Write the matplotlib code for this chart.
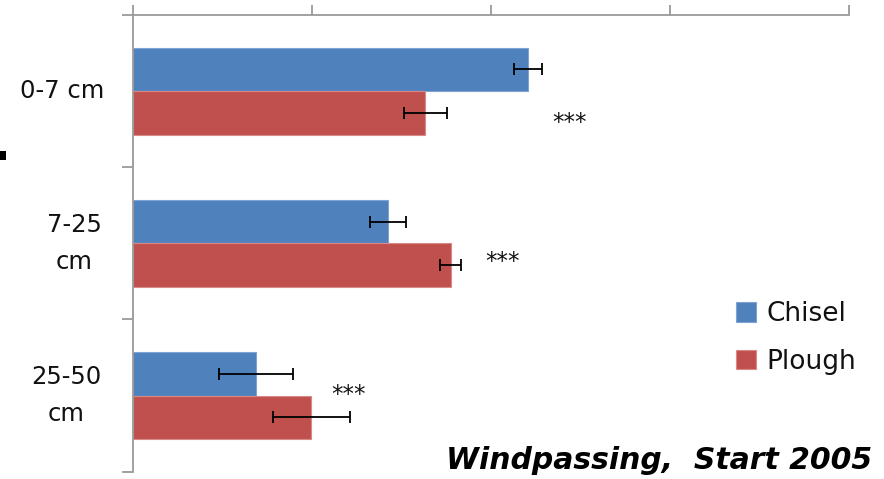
import matplotlib
matplotlib.use("Agg")
import matplotlib.pyplot as plt
import numpy as np
from matplotlib.patches import Rectangle

# Soil depth layers and treatment means with standard errors
depths = ["0-7 cm", "7-25\ncm", "25-50\ncm"]
series_names = ["Chisel", "Plough"]
chisel = [2.208, 1.425, 0.688]
plough = [1.634, 1.776, 0.997]
chisel_err = [0.079, 0.099, 0.207]
plough_err = [0.118, 0.059, 0.214]
signif = ["***", "***", "***"]
title = "Windpassing,  Start 2005"

blue = "#4F81BD"
red = "#C0504D"
axis_grey = "#9a9a9a"
font = ["DejaVu Sans"]

fig = plt.figure(figsize=(8.84, 4.79), dpi=100)
ax = fig.add_axes([133 / 884, 1 - 471.7 / 479, (849 - 133) / 884, (471.7 - 15) / 479])

y = np.arange(len(depths))
h = 0.286
err_kw = dict(ecolor="black", elinewidth=1.3, capsize=4.3, capthick=1.3)
ax.barh(y - h / 2, chisel, height=h, color=blue, edgecolor="#7fa3d3", linewidth=0.8,
        xerr=chisel_err, error_kw=err_kw, label=series_names[0], zorder=2)
ax.barh(y + h / 2, plough, height=h, color=red, edgecolor="#d98a88", linewidth=0.8,
        xerr=plough_err, error_kw=err_kw, label=series_names[1], zorder=2)

# significance markers next to each depth group
star_pos = [(2.34, 0.25), (1.966, 1.16), (1.109, 2.035)]
for s, (sx, sy) in zip(signif, star_pos):
    ax.text(sx, sy, s, fontsize=16.5, family=font, va="baseline", ha="left", color="#111111")

ax.set_xlim(0, 4)
ax.set_ylim(2.5, -0.5)
ax.xaxis.tick_top()
ax.set_xticks(np.arange(0, 5, 1))
ax.set_xticklabels([])
ax.tick_params(axis="x", which="major", direction="out", length=7, width=1.3, color=axis_grey)

# category labels drawn as centred text left of the axis
ax.set_yticks(y)
ax.set_yticklabels([])
ax.tick_params(axis="y", which="major", length=0)
label_x = [62, 74, 66]
for yi, lab, lx in zip(y, depths, label_x):
    ax.text((lx - 133) / 716, yi, lab, transform=ax.get_yaxis_transform(), ha="center",
            va="center", multialignment="center", fontsize=17.5, family=font,
            linespacing=1.7, color="#111111")

ax.set_yticks([-0.5, 0.5, 1.5, 2.5], minor=True)
ax.tick_params(axis="y", which="minor", direction="out", length=8, width=1.3, color=axis_grey)

for side in ["right", "bottom"]:
    ax.spines[side].set_visible(False)
for side in ["top", "left"]:
    ax.spines[side].set_color(axis_grey)
    ax.spines[side].set_linewidth(1.3)

leg = fig.legend(loc="center left", bbox_to_anchor=(735.7 / 884, 1 - 338 / 479), frameon=False,
                 prop={"family": font, "size": 19}, handlelength=0.76, handleheight=0.76,
                 handletextpad=0.42, labelspacing=0.8, borderpad=0, borderaxespad=0)
for t in leg.get_texts():
    t.set_color("#111111")

fig.text(871.7 / 884, 1 - 469 / 479, title, ha="right", va="baseline", fontsize=21.5,
         fontweight="bold", fontstyle="italic", family=font)

fig.patches.append(Rectangle((0, 1 - 160 / 479), 6 / 884, 9 / 479, transform=fig.transFigure,
                             facecolor="black", edgecolor="none"))

fig.savefig("out.png", dpi=100)
